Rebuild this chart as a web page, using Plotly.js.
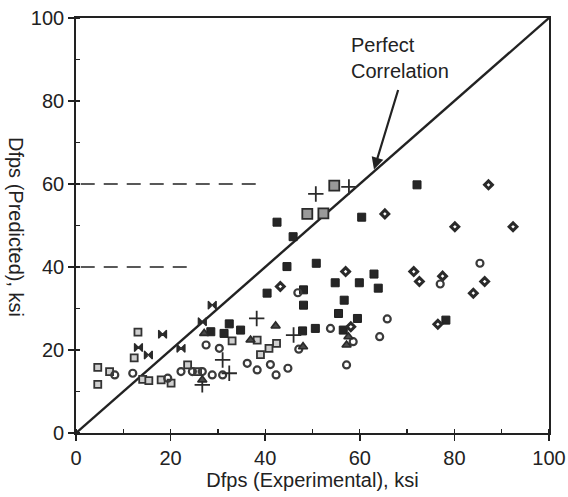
<!DOCTYPE html>
<html>
<head>
<meta charset="utf-8">
<script src="https://cdn.plot.ly/plotly-3.0.1.min.js"></script>
<style>html,body{margin:0;padding:0;background:#fff;}#chart{width:568px;height:497px;}</style>
</head>
<body>
<div id="chart"></div>
<script>
// Open squares (light gray fill)
const openSqX = [4.6, 4.6, 7.1, 12.3, 13.1, 14.1, 15.4, 18.0, 20.1, 23.6, 25.7, 33.0, 38.3, 39.0, 40.8, 42.4];
const openSqY = [15.8, 11.7, 14.8, 18.1, 24.3, 12.9, 12.6, 12.8, 12.0, 16.4, 14.8, 22.2, 22.4, 18.9, 20.4, 21.6];
// Bowties
const bowX = [13.2, 15.3, 18.3, 22.2, 26.7, 28.8];
const bowY = [20.6, 18.8, 23.8, 20.4, 26.8, 30.8];
// Filled squares
const fillSqX = [28.5, 31.3, 32.4, 34.8, 40.4, 42.5, 44.6, 45.9, 47.9, 48.1, 48.1, 50.6, 50.8, 54.8, 55.5, 56.5, 56.7, 59.5, 59.9, 60.4, 63.0, 63.9, 72.1, 78.2];
const fillSqY = [24.4, 24.0, 26.3, 24.8, 33.7, 50.8, 40.1, 47.3, 24.6, 30.8, 34.5, 25.2, 40.9, 36.2, 28.8, 24.8, 32.0, 27.6, 36.2, 52.0, 38.3, 34.9, 59.8, 27.2];
// Diamonds
const diaX = [43.2, 57.0, 58.1, 65.3, 71.4, 72.6, 76.5, 77.5, 80.1, 84.0, 86.4, 87.2, 92.4];
const diaY = [35.3, 38.9, 25.6, 52.8, 38.9, 36.5, 26.2, 37.8, 49.7, 33.7, 36.5, 59.8, 49.7];
// Open circles
const circX = [8.2, 12.0, 19.4, 22.2, 24.6, 26.7, 27.5, 28.8, 30.3, 31.0, 36.2, 38.3, 41.1, 42.3, 44.8, 46.9, 47.1, 53.8, 57.2, 58.6, 64.2, 65.8, 77.0, 85.4];
const circY = [14.0, 14.4, 13.2, 14.8, 14.8, 14.8, 21.2, 14.0, 20.4, 14.0, 16.8, 15.2, 16.5, 14.0, 15.6, 33.8, 20.2, 25.2, 16.4, 22.0, 23.2, 27.5, 35.9, 40.9];
// Plus
const plusX = [26.7, 31.0, 32.4, 38.2, 46.0, 50.7, 57.7];
const plusY = [11.6, 17.6, 14.4, 27.6, 23.6, 57.6, 59.3];
// Triangles
const triX = [26.7, 27.1, 36.9, 42.2, 48.0, 57.2, 57.6];
const triY = [12.8, 24.0, 22.4, 25.8, 20.8, 21.2, 23.2];
// Gray squares (large)
const graySqX = [48.9, 52.3, 54.6];
const graySqY = [52.8, 52.9, 59.6];
// Perfect correlation line
const lineX = [0, 100];
const lineY = [0, 100];
// Dashed reference levels
const dashLevels = [60, 40];
const dashEnds = [39, 24];

const ink = '#222';
const FONT = 'Liberation Sans, Arial, sans-serif';
const traces = [
  {x: lineX, y: lineY, mode: 'lines', line: {color: ink, width: 2.4}, hoverinfo: 'skip'},
  {x: openSqX, y: openSqY, mode: 'markers', marker: {symbol: 'square', size: 7, color: '#cfcfcf', line: {color: '#333', width: 1.8}}},
  {x: bowX, y: bowY, mode: 'markers', marker: {symbol: 'bowtie', size: 8, color: '#2a2a2a', line: {color: '#2a2a2a', width: 1.2}}},
  {x: fillSqX, y: fillSqY, mode: 'markers', marker: {symbol: 'square', size: 8, color: '#262626', line: {color: '#1e1e1e', width: 1}}},
  {x: diaX, y: diaY, mode: 'markers', marker: {symbol: 'diamond-open', size: 6, color: '#2a2a2a', line: {color: '#2a2a2a', width: 3}}},
  {x: circX, y: circY, mode: 'markers', marker: {symbol: 'circle-open', size: 7, color: '#3a3a3a', line: {color: '#3a3a3a', width: 2.2}}},
  {x: plusX, y: plusY, mode: 'markers', marker: {symbol: 'cross-thin-open', size: 11, color: '#2a2a2a', line: {color: '#2a2a2a', width: 1.8}}},
  {x: triX, y: triY, mode: 'markers', marker: {symbol: 'triangle-up', size: 8, color: '#4a4a4a', line: {color: '#2a2a2a', width: 1.6}}},
  {x: graySqX, y: graySqY, mode: 'markers', marker: {symbol: 'square', size: 10, color: '#999', line: {color: '#2a2a2a', width: 1.8}}}
];

const shapes = dashLevels.map((lv, i) => ({
  type: 'line', xref: 'x', yref: 'y', x0: 1, x1: dashEnds[i], y0: lv, y1: lv,
  line: {color: ink, width: 1.6, dash: '14px,9px'}
}));

const axisCommon = {
  range: [0, 100], dtick: 20, showgrid: false, zeroline: false,
  showline: true, linecolor: ink, linewidth: 1.8, mirror: true,
  ticks: 'outside', ticklen: 6, tickwidth: 1.5, tickcolor: ink,
  minor: {dtick: 10, ticks: 'inside', ticklen: 4, tickwidth: 1.3, tickcolor: ink},
  tickfont: {family: FONT, size: 20, color: ink},
  ticklabeloverflow: 'allow',
  fixedrange: true
};

const ML = 76, MR = 19, MT = 18, MB = 64;
const plotW = 568 - ML - MR, plotH = 497 - MT - MB;
const layout = {
  width: 568, height: 497,
  margin: {l: ML, r: MR, t: MT, b: MB},
  paper_bgcolor: '#fff', plot_bgcolor: '#fff',
  showlegend: false,
  xaxis: Object.assign({}, axisCommon, {
    title: {text: 'Dfps (Experimental), ksi', font: {family: FONT, size: 20, color: ink}, standoff: 2}
  }),
  yaxis: Object.assign({}, axisCommon),
  shapes: shapes,
  annotations: [
    {x: (16 - ML) / plotW, y: (497 - MB - 227) / plotH, xref: 'paper', yref: 'paper',
     text: 'Dfps (Predicted), ksi', showarrow: false,
     textangle: 90, xanchor: 'center', yanchor: 'middle',
     font: {family: FONT, size: 20, color: ink}},
    {x: 63, y: 63.5, xref: 'x', yref: 'y', ax: 68.2, ay: 83, axref: 'x', ayref: 'y',
     text: '', showarrow: true, arrowhead: 2, arrowsize: 1.1, arrowwidth: 2.2, arrowcolor: ink},
    {x: 57.8, y: 90.3, xref: 'x', yref: 'y', xanchor: 'left', yanchor: 'middle', align: 'left',
     text: 'Perfect<br>Correlation', showarrow: false,
     font: {family: FONT, size: 20, color: ink}}
  ]
};

Plotly.newPlot('chart', traces, layout, {displayModeBar: false, staticPlot: true});
</script>
</body>
</html>
